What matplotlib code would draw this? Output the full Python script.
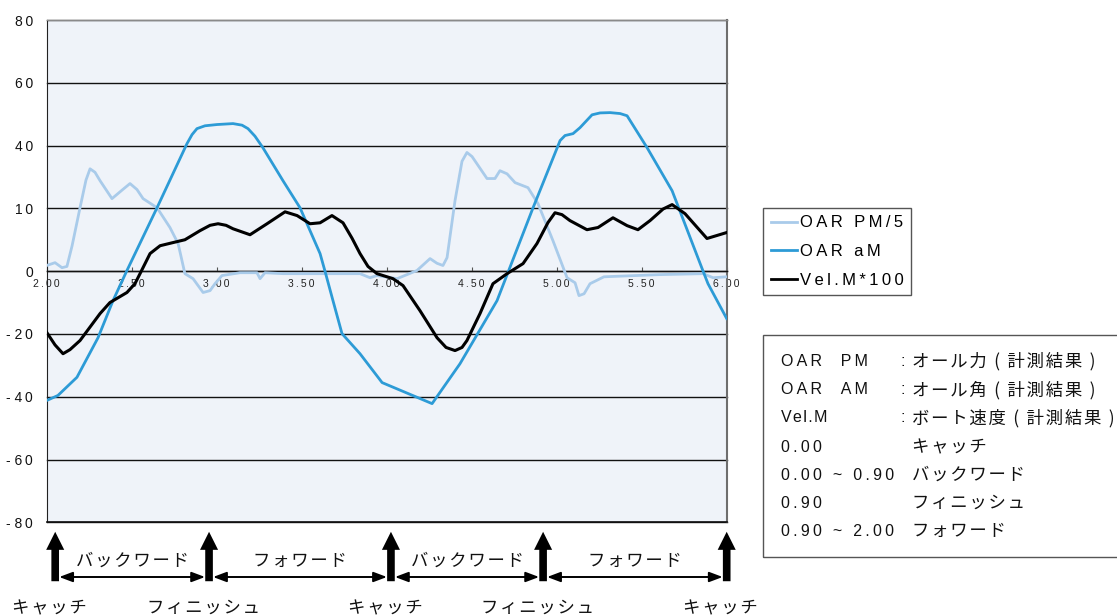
import matplotlib
matplotlib.use("Agg")
import matplotlib.pyplot as plt
from matplotlib.patches import Rectangle, FancyArrowPatch
from matplotlib.lines import Line2D

# ---- data -------------------------------------------------------------
oar_pm_x = [2.000, 2.049, 2.090, 2.119, 2.149, 2.196, 2.231, 2.255, 2.284, 2.314,
            2.384, 2.443, 2.490, 2.531, 2.567, 2.649, 2.725, 2.773, 2.813, 2.861,
            2.920, 2.961, 2.990, 3.031, 3.137, 3.237, 3.255, 3.284, 3.390, 3.684,
            3.843, 3.902, 3.943, 4.061, 4.178, 4.255, 4.296, 4.331, 4.355, 4.402,
            4.443, 4.472, 4.502, 4.590, 4.637, 4.666, 4.708, 4.755, 4.831, 4.890,
            4.978, 5.061, 5.108, 5.131, 5.161, 5.196, 5.278, 5.608, 5.861, 5.920,
            6.000]
oar_pm_y = [1.8, 2.7, 1.1, 1.5, 8.0, 20.2, 29.0, 32.6, 31.5, 28.8,
            23.1, 25.8, 27.9, 26.0, 23.1, 20.2, 13.9, 8.8, -0.8, -2.4,
            -6.8, -6.2, -4.0, -1.4, -0.5, -0.5, -2.4, -0.5, -0.8, -0.8,
            -0.8, -2.1, -1.4, -2.4, 0.2, 4.0, 2.5, 1.8, 4.3, 22.5,
            35.0, 37.8, 36.5, 29.5, 29.5, 32.0, 31.0, 28.2, 26.6, 21.5,
            9.7, -2.1, -3.7, -7.8, -7.2, -4.0, -1.8, -1.1, -0.8, -2.1,
            -1.8]

oar_am_x = [2.000, 2.066, 2.178, 2.302, 2.390, 2.472, 2.649, 2.825, 2.855, 2.884,
            2.931, 3.002, 3.096, 3.149, 3.184, 3.225, 3.272, 3.390, 3.490, 3.608,
            3.637, 3.684, 3.737, 3.843, 3.973, 4.267, 4.431, 4.649, 4.861, 5.020,
            5.049, 5.096, 5.137, 5.208, 5.255, 5.314, 5.373, 5.414, 5.532, 5.679,
            5.861, 5.890, 6.000]
oar_am_y = [-41.2, -39.6, -33.8, -21.2, -9.4, 0.2, 20.2, 40.6, 43.5, 45.4,
            46.3, 46.7, 47.0, 46.5, 45.4, 43.0, 39.3, 28.8, 20.2, 5.6,
            0.0, -9.4, -19.9, -26.3, -35.5, -42.2, -29.5, -9.4, 20.2, 41.6,
            43.2, 43.8, 45.7, 49.8, 50.4, 50.5, 50.2, 49.5, 39.3, 25.6,
            0.0, -4.0, -15.1]

vel_x = [2.000, 2.049, 2.096, 2.137, 2.196, 2.314, 2.372, 2.472, 2.519, 2.549,
         2.608, 2.667, 2.743, 2.813, 2.902, 2.961, 3.008, 3.055, 3.096, 3.196,
         3.296, 3.402, 3.473, 3.549, 3.608, 3.678, 3.743, 3.796, 3.843, 3.890,
         3.943, 4.037, 4.096, 4.196, 4.296, 4.349, 4.402, 4.443, 4.472, 4.549,
         4.625, 4.708, 4.802, 4.884, 4.949, 4.990, 5.031, 5.078, 5.178, 5.243,
         5.331, 5.414, 5.478, 5.549, 5.626, 5.679, 5.755, 5.884, 6.000]
vel_y = [-19.5, -23.5, -26.3, -25.0, -22.1, -13.5, -10.0, -6.8, -4.0, -0.8,
         5.6, 8.1, 9.1, 10.0, 12.9, 14.6, 15.1, 14.6, 13.5, 11.6,
         15.1, 18.9, 17.7, 15.1, 15.4, 17.7, 15.4, 10.5, 5.6, 1.5,
         -0.8, -2.4, -4.6, -12.6, -21.2, -24.3, -25.3, -24.3, -22.1, -13.5,
         -4.0, -0.8, 2.4, 8.8, 15.5, 18.6, 18.0, 16.1, 13.2, 13.9,
         17.0, 14.5, 13.2, 16.1, 19.8, 21.2, 18.3, 10.4, 12.3]

y_ticks = [-80, -60, -40, -20, 0, 20, 40, 60, 80]
y_tick_labels = ["-80", "-60", "-40", "-20", "0", "10", "40", "60", "80"]
x_ticks = [2.0, 2.5, 3.0, 3.5, 4.0, 4.5, 5.0, 5.5, 6.0]
x_tick_labels = ["2.00", "2.50", "3.00", "3.50", "4.00", "4.50", "5.00", "5.50", "6.00"]

series_labels = ["OAR PM/5", "OAR aM", "Vel.M*100"]
series_colors = ["#A9CBEA", "#2D9BD6", "#000000"]

phase_x = [2.05, 2.955, 4.025, 4.92, 6.0]
phase_names = ["キャッチ", "フィニッシュ", "キャッチ", "フィニッシュ", "キャッチ"]
span_names = ["バックワード", "フォワード", "バックワード", "フォワード"]

note_keys = ["OAR  PM", "OAR  AM", "Vel.M", "0.00", "0.00 ~ 0.90", "0.90", "0.90 ~ 2.00"]
note_colon = [True, True, True, False, False, False, False]
note_vals = ["オール力 ( 計測結果 )", "オール角 ( 計測結果 )", "ボート速度 ( 計測結果 )",
             "キャッチ", "バックワード", "フィニッシュ", "フォワード"]

# ---- styling helpers ---------------------------------------------------
W, H = 1117, 615
LATIN = ["Liberation Sans", "DejaVu Sans"]
JP = ["Noto Sans CJK JP", "DejaVu Sans"]
THIN = "\u2009"
HAIR = "\u200a"


def spaced(s, gap=THIN):
    return gap.join(s)


def ytick_text(t):
    if t.startswith("-"):
        return "- " + spaced(t[1:])
    return spaced(t)


def fx(px):
    return px / W


def fy(py):
    return 1 - py / H


fig = plt.figure(figsize=(W / 100, H / 100), dpi=100)
fig.patch.set_facecolor("white")
ax = fig.add_axes([fx(46.7), fy(522.3), (726.7 - 46.7) / W, (522.3 - 20) / H])
ax.set_facecolor("#EFF3F9")
ax.set_xlim(2.0, 6.0)
ax.set_ylim(-80, 80)

# horizontal grid
ax.set_yticks(y_ticks)
ax.set_yticklabels([ytick_text(t) for t in y_tick_labels],
                   fontfamily=LATIN, fontsize=10, color="#111111")
ax.tick_params(axis="y", length=0, pad=10)
for yv in y_ticks:
    ax.axhline(yv, color="#111111", lw=1.0, zorder=1, clip_on=False)

# x axis sits on the zero line, ticks pointing up
ax.spines["bottom"].set_position(("data", 0))
ax.spines["bottom"].set_color("#111111")
ax.spines["bottom"].set_linewidth(1.0)
ax.set_xticks(x_ticks)
ax.set_xticklabels([spaced(t) for t in x_tick_labels], fontfamily=LATIN, fontsize=7.5, color="#222222")
ax.tick_params(axis="x", direction="in", length=3, width=0.8, color="#555555", pad=6)
for lbl in ax.get_xticklabels():
    lbl.set_clip_on(False)

ax.spines["left"].set_color("#222222")
ax.spines["top"].set_color("#8A8A8A")
ax.spines["right"].set_color("#6E6E6E")
ax.spines["right"].set_linewidth(1.5)
ax.axhline(-80, color="#111111", lw=1.2, zorder=3, clip_on=False)

# series
ax.plot(oar_pm_x, oar_pm_y, color=series_colors[0], lw=2.0, zorder=4, solid_joinstyle="round")
ax.plot(oar_am_x, oar_am_y, color=series_colors[1], lw=2.0, zorder=5, solid_joinstyle="round")
ax.plot(vel_x, vel_y, color=series_colors[2], lw=2.2, zorder=6, solid_joinstyle="round")

# legend
handles = [Line2D([], [], color=c, lw=2.0) for c in series_colors]
leg = fig.legend(handles, [spaced(s) for s in series_labels], loc="upper left",
                 bbox_to_anchor=(fx(763), fy(208)), bbox_transform=fig.transFigure,
                 frameon=True, fancybox=False, edgecolor="#555555", framealpha=1,
                 borderpad=0.45, handlelength=1.6, handletextpad=0.15,
                 labelspacing=0.82, borderaxespad=0,
                 prop={"family": LATIN, "size": 12})
leg.get_frame().set_linewidth(1.0)

# explanation box
fig.patches.append(Rectangle((fx(763), fy(557)), fx(1130) - fx(763), fy(335) - fy(557),
                             transform=fig.transFigure, fill=False, edgecolor="#555555", lw=1.0))
row_y = [361, 390, 418, 447, 475, 503, 531]
for i, (k, c, v) in enumerate(zip(note_keys, note_colon, note_vals)):
    key_text = spaced(k, HAIR) if k.startswith("Vel") else spaced(k)
    fig.text(fx(781), fy(row_y[i]), key_text, fontfamily=LATIN, fontsize=11.5,
             va="center", ha="left", color="#111111")
    if c:
        fig.text(fx(901), fy(row_y[i]), ":", fontfamily=LATIN, fontsize=11.5,
                 va="center", ha="left", color="#111111")
    fig.text(fx(912), fy(row_y[i]), spaced(v, HAIR), fontfamily=JP, fontsize=12.5,
             va="center", ha="left", color="#111111")

# stroke-phase arrows below the plot
to_px = lambda xv: ax.transData.transform((xv, 0))[0]
phase_px = [to_px(v) for v in phase_x]
for i, px in enumerate(phase_px):
    arr = FancyArrowPatch((fx(px), fy(584)), (fx(px), fy(529)), transform=fig.transFigure,
                          arrowstyle="simple,head_length=13,head_width=13,tail_width=5.5",
                          mutation_scale=1, color="black", lw=0)
    fig.patches.append(arr)
    fig.text(fx(px - 6), fy(608), spaced(phase_names[i], HAIR), fontfamily=JP, fontsize=12.5,
             ha="center", va="center", color="#111111")
for i, name in enumerate(span_names):
    a, b = phase_px[i] + 4, phase_px[i + 1] - 4
    arr = FancyArrowPatch((fx(a), fy(577)), (fx(b), fy(577)), transform=fig.transFigure,
                          arrowstyle="<|-|>,head_length=8,head_width=3",
                          mutation_scale=1, color="black", lw=1.4, shrinkA=0, shrinkB=0)
    fig.patches.append(arr)
    fig.text(fx((a + b) / 2), fy(561), spaced(name, HAIR), fontfamily=JP, fontsize=12.5,
             ha="center", va="center", color="#111111")

fig.savefig("out.png", dpi=100)
